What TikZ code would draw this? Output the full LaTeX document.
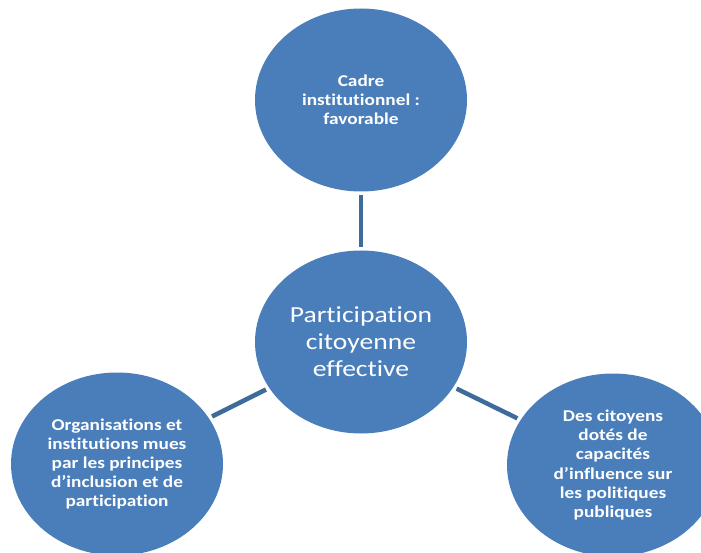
\documentclass[tikz,border=0pt]{standalone}
\usepackage{fontspec}
\setmainfont[Ligatures=NoCommon]{Carlito}
\newfontfamily\smallfam[Ligatures=NoCommon,FakeStretch=1.17]{Carlito}
\newfontfamily\bigfam[Ligatures=NoCommon,FakeStretch=1.2]{Carlito}
\usetikzlibrary{shapes.geometric}
\definecolor{circfill}{HTML}{4A7EBB}
\definecolor{linkcol}{HTML}{3D6C9C}
\tikzset{
  bubble/.style={ellipse, fill=circfill, minimum width=212pt, minimum height=183pt,
    inner sep=0pt, text=white, align=center},
  smalltext/.style={font=\smallfam\fontsize{16.5}{19.2}\selectfont\bfseries},
  bigtext/.style={font=\bigfam\fontsize{23}{27}\selectfont},
  link/.style={draw=linkcol, line width=4.5pt, shorten <=3.5pt, shorten >=3.5pt}
}
\begin{document}
\begin{tikzpicture}[x=1pt,y=1pt]
\useasboundingbox (0,0) rectangle (701,552);
\clip (0,0) rectangle (701,552);
\fill[white] (0,0) rectangle (701,552);
\node[bubble, smalltext] (top) at (361,452) {Cadre\\institutionnel :\\favorable};
\node[bubble, bigtext] (mid) at (361,210) {Participation\\citoyenne\\effective};
\node[bubble, smalltext] (left) at (117,88) {Organisations et\\institutions mues\\par les principes\\d’inclusion et de\\participation};
\node[bubble, smalltext] (right) at (613,87) {Des citoyens\\dotés de\\capacités\\d’influence sur\\les politiques\\publiques};
\draw[link] (top) -- (mid);
\draw[link] (mid) -- (left);
\draw[link] (mid) -- (right);
\end{tikzpicture}
\end{document}
